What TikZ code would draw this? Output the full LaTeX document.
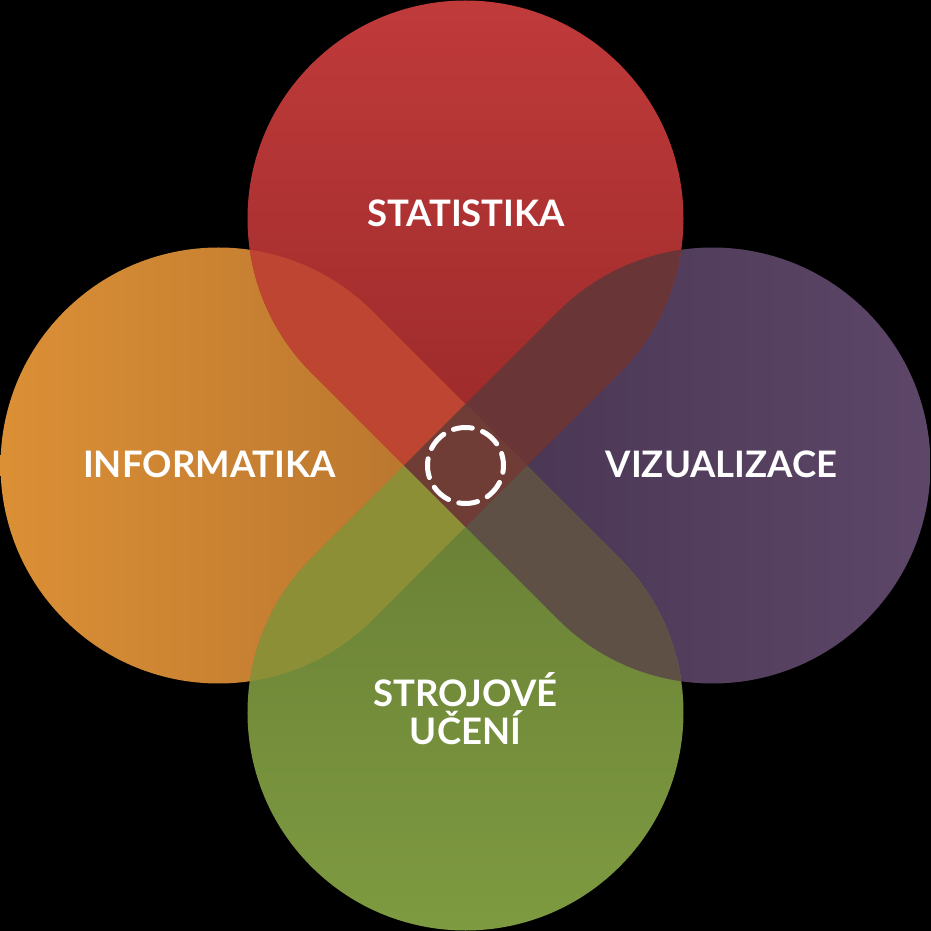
\documentclass[tikz,border=0pt]{standalone}
\usepackage{fontspec}
\setmainfont{Lato}
\definecolor{redtop}{HTML}{C23B3B}
\definecolor{redmid}{HTML}{A22D2C}
\definecolor{redbot}{HTML}{952727}
\definecolor{orleft}{HTML}{DD9136}
\definecolor{ormid}{HTML}{C27A30}
\definecolor{orright}{HTML}{B2702D}
\definecolor{puright}{HTML}{5E4769}
\definecolor{pumid}{HTML}{533F5F}
\definecolor{puleft}{HTML}{45334F}
\definecolor{grbot}{HTML}{7F9C41}
\definecolor{grmid}{HTML}{718A39}
\definecolor{grtop}{HTML}{657A33}
\definecolor{redor}{HTML}{BE4531}
\definecolor{redpu}{HTML}{6A3537}
\definecolor{gror}{HTML}{8D8F37}
\definecolor{grpu}{HTML}{5E5045}
\definecolor{centre}{HTML}{6F3C36}
\def\redpath{(0,-61.3) -- (154.15,92.85) arc[start angle=-45,end angle=225,radius=218] -- cycle}
\def\orpath{(61.3,0) -- (-92.85,154.15) arc[start angle=45,end angle=315,radius=218] -- cycle}
\def\grpath{(0,61.3) -- (-154.15,-92.85) arc[start angle=135,end angle=405,radius=218] -- cycle}
\def\pupath{(-61.3,0) -- (92.85,-154.15) arc[start angle=225,end angle=495,radius=218] -- cycle}
\tikzset{
  label/.style={text=white, font=\fontsize{36.5}{40}\selectfont\bfseries, inner sep=0pt},
  ring/.style={draw=white, line width=5pt, line cap=round, dash pattern=on 19pt off 10.845pt}
}
\begin{document}
\begin{tikzpicture}[x=1pt,y=1pt]
\fill[black] (-465.5,-465.5) rectangle (465.5,465.5);
\useasboundingbox (-465.5,-465.5) rectangle (465.5,465.5);
% single shapes
\shade[left color=orleft, middle color=ormid, right color=orright] \orpath;
\shade[left color=puleft, middle color=pumid, right color=puright] \pupath;
\shade[top color=redtop, middle color=redmid, bottom color=redbot] \redpath;
\shade[top color=grtop, middle color=grmid, bottom color=grbot] \grpath;
% pair overlaps
\begin{scope}\clip \redpath; \fill[redor] \orpath; \fill[redpu] \pupath; \end{scope}
\begin{scope}\clip \grpath; \fill[gror] \orpath; \fill[grpu] \pupath; \end{scope}
% centre
\fill[centre] (0,61.3) -- (61.3,0) -- (0,-61.3) -- (-61.3,0) -- cycle;
% dashed ring
\draw[ring] (-10.3:38) arc[start angle=-10.3, delta angle=360, radius=38];
% labels
\node[label, anchor=base] (stat) at (0.5,238.5) {STATISTIKA};
\node[label, anchor=base] (info) at (-256,-12.5) {INFORMATIKA};
\node[label, anchor=base] (viz) at (256,-12.5) {VIZUALIZACE};
\node[label, anchor=base] (ml1) at (0,-240.5) {STROJOVÉ};
\node[label, anchor=base] (ml2) at (0,-278.5) {UČENÍ};
\end{tikzpicture}
\end{document}
